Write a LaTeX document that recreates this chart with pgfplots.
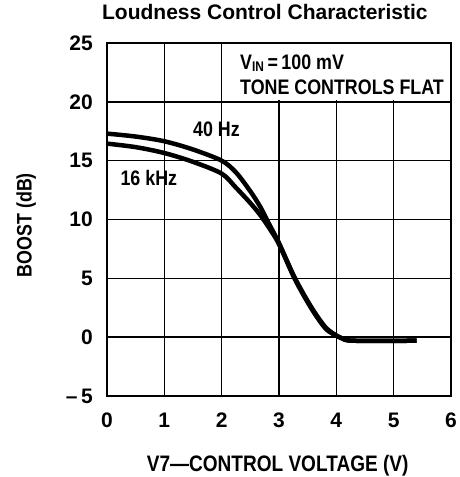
\documentclass[border=0pt]{standalone}
\usepackage{fontspec}
\setmainfont{Liberation Sans}
\newfontfamily\condfont{Liberation Sans}[FakeStretch=0.85]
\newfontfamily\tickfont{Liberation Sans}
\usepackage{pgfplots}
\pgfplotsset{compat=1.18}
\begin{document}
\begin{tikzpicture}
\useasboundingbox (-107pt,-81pt) rectangle (353pt,396pt);
\begin{axis}[at={(0,0)}, anchor=south west, scale only axis,
  width=344pt, height=353pt,
  xmin=0, xmax=6, ymin=-5, ymax=25,
  xtick={0,1,2,3,4,5,6}, ytick={-5,0,5,10,15,20,25},
  xticklabels={0,1,2,3,4,5,6},
  yticklabels={{–\,5},0,5,10,15,20,25},
  grid=major, major grid style={black, line width=1.6pt},
  axis line style={black, line width=2pt},
  tick style={draw=none},
  ticklabel style={font=\tickfont\bfseries\fontsize{21}{21}\selectfont, inner sep=0pt},
  xticklabel style={anchor=center, yshift=-24pt},
  yticklabel style={anchor=east, xshift=-14pt},
  title={Loudness Control Characteristic},
  title style={at={(rel axis cs:0.459,1.072)}, anchor=center, inner sep=0pt, font=\bfseries\fontsize{21}{21}\selectfont},
  xlabel={V7—CONTROL VOLTAGE (V)},
  xlabel style={at={(rel axis cs:0.496,-0.198)}, anchor=center, inner sep=0pt, font=\condfont\bfseries\fontsize{22.4}{22.4}\selectfont},
  ylabel={BOOST (dB)},
  ylabel style={at={(rel axis cs:-0.235,0.484)}, anchor=center, inner sep=0pt, font=\condfont\bfseries\fontsize{21}{21}\selectfont},
]
\fill[white] (axis cs:2.05,20.12) rectangle (axis cs:5.97,24.9);
\addplot[black, line width=4.5pt, smooth, tension=0.5] coordinates {
(0,17.3) (0.5,17.05) (1,16.65) (1.5,15.95) (2,15.0) (2.25,14.0) (2.5,12.4) (2.67,11.1) (2.84,9.5) (3.0,8.0) (3.28,5.0) (3.57,2.5) (3.8,0.9) (3.95,0.3) (4.1,-0.1) (4.3,-0.3) (5.4,-0.3)};
\addplot[black, line width=4.5pt, smooth, tension=0.5] coordinates {
(0,16.45) (0.5,16.15) (1,15.65) (1.5,14.9) (2,13.9) (2.25,12.7) (2.5,11.4) (2.67,10.4) (2.84,9.2) (3.0,7.9) (3.28,4.9) (3.57,2.4) (3.8,0.8) (3.95,0.25) (4.1,-0.1) (4.3,-0.3) (5.4,-0.3)};
\node[font=\condfont\bfseries\fontsize{21}{21}\selectfont, inner sep=0pt] at (axis cs:1.91,17.68) {40 Hz};
\node[font=\condfont\bfseries\fontsize{21}{21}\selectfont, inner sep=0pt] at (axis cs:0.73,13.5) {16 kHz};
\node[font=\condfont\bfseries\fontsize{21}{21}\selectfont, inner sep=0pt, anchor=west] at (axis cs:2.32,23.29) {V\raisebox{-2pt}{\fontsize{14}{14}\selectfont IN}\,=\,100 mV};
\node[font=\condfont\bfseries\fontsize{21}{21}\selectfont, inner sep=0pt, anchor=west] at (axis cs:2.32,21.2) {TONE CONTROLS FLAT};
\end{axis}
\end{tikzpicture}
\end{document}
